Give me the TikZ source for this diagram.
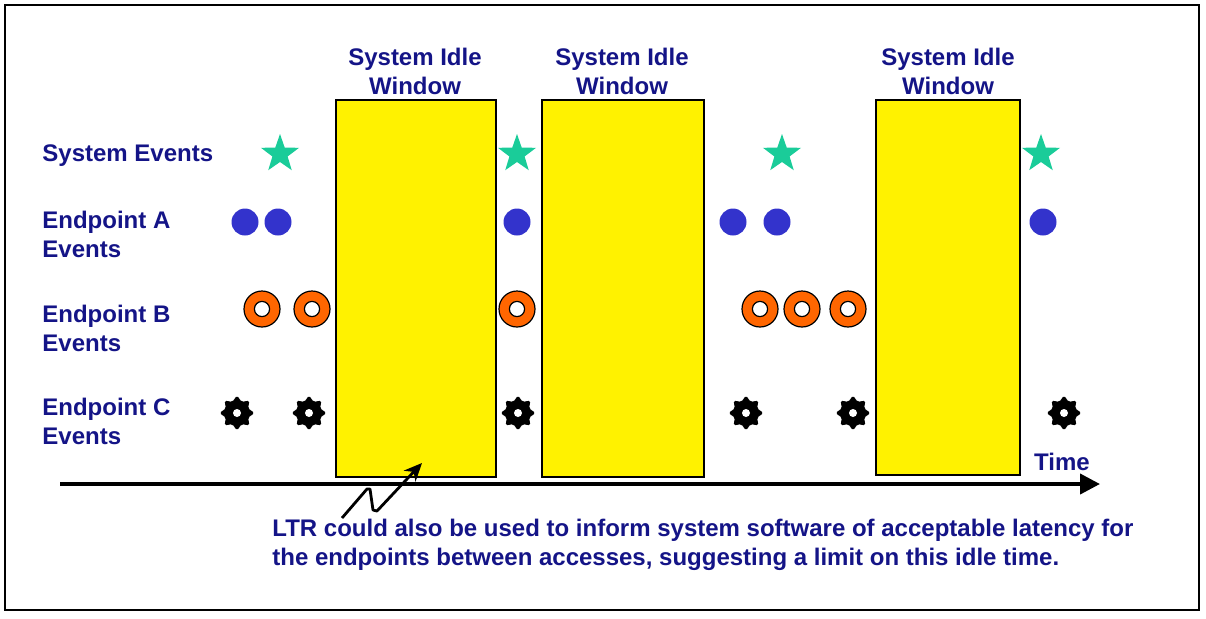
\documentclass[tikz,border=0pt]{standalone}
\usepackage{fontspec}
\setmainfont{Liberation Sans}
\usepackage{tikz}
\usepackage{xcolor}
\usetikzlibrary{shapes.geometric,arrows.meta}

\definecolor{labelblue}{RGB}{20,20,135}
\definecolor{dotblue}{RGB}{51,51,204}
\definecolor{stargreen}{RGB}{26,204,153}
\definecolor{ringorange}{RGB}{255,102,0}

\begin{document}
\begin{tikzpicture}[x=0.5pt, y=-0.5pt,
	txt/.style={text=labelblue, font=\fontsize{12}{14.5}\selectfont\bfseries, inner sep=0pt},
	rowlabel/.style={txt, anchor=west, align=left},
	idle/.style={draw, line width=0.7pt, fill=yellow, inner sep=0pt},
	sysev/.style={star, star points=5, star point ratio=2.5, fill=stargreen, minimum size=20pt, inner sep=0pt},
	epa/.style={circle, fill=dotblue, minimum size=13.5pt, inner sep=0pt},
	epb/.style={circle, draw, line width=0.6pt, fill=ringorange, minimum size=18pt, inner sep=0pt,
		path picture={\draw[line width=0.6pt, fill=white] (path picture bounding box.center) circle (3.8pt);}},
	epc/.style={star, star points=8, star point ratio=1.45, fill=black, minimum size=17.5pt, inner sep=0pt, rounded corners=0.8pt,
		path picture={\fill[white] (path picture bounding box.center) circle (2pt);}}]
	\useasboundingbox (0,0) rectangle (1206,618);
	\draw[line width=1pt] (5,5) rectangle (1199,610);
	
	% idle windows
	\node[idle, minimum width=80pt, minimum height=188.5pt] (w1) at (416,288.5) {};
	\node[idle, minimum width=81pt, minimum height=188.5pt] (w2) at (623,288.5) {};
	\node[idle, minimum width=72pt, minimum height=187.5pt] (w3) at (948,287.5) {};
	
	\node[txt, align=center] (h1) at (415,71) {System Idle\\Window};
	\node[txt, align=center] (h2) at (622,71) {System Idle\\Window};
	\node[txt, align=center] (h3) at (948,71) {System Idle\\Window};
	
	% rows
	\node[rowlabel] (ls) at (42,156) {System Events};
	\node[rowlabel] (la) at (42,234) {Endpoint A\\Events};
	\node[rowlabel] (lb) at (42,328) {Endpoint B\\Events};
	\node[rowlabel] (lc) at (42,421) {Endpoint C\\Events};
	
	\node[sysev] (s1) at (280,154) {};
	\node[sysev] (s2) at (517,154) {};
	\node[sysev] (s3) at (782,154) {};
	\node[sysev] (s4) at (1041,154) {};
	
	\node[epa] (a1) at (245,222) {};
	\node[epa] (a2) at (278,222) {};
	\node[epa] (a3) at (517,222) {};
	\node[epa] (a4) at (733,222) {};
	\node[epa] (a5) at (777,222) {};
	\node[epa] (a6) at (1043,222) {};
	
	\node[epb] (b1) at (262,309) {};
	\node[epb] (b2) at (312,309) {};
	\node[epb] (b3) at (517,309) {};
	\node[epb] (b4) at (760,309) {};
	\node[epb] (b5) at (802,309) {};
	\node[epb] (b6) at (848,309) {};
	
	\node[epc] (c1) at (237,413) {};
	\node[epc] (c2) at (309,413) {};
	\node[epc] (c3) at (518,413) {};
	\node[epc] (c4) at (746,413) {};
	\node[epc] (c5) at (853,413) {};
	\node[epc] (c6) at (1064,413) {};
	
	% time axis
	\coordinate (t0) at (60,484);
	\coordinate (t1) at (1100,484);
	\draw[line width=2pt, -{Triangle[length=10pt, width=10pt]}] (t0) -- (t1);
	\node[txt] (time) at (1062,462) {Time};
	
	% note
	\node[txt, anchor=north west, align=left] (note) at (272,519) {LTR could also be used to inform system software of acceptable latency for\\the endpoints between accesses, suggesting a limit on this idle time.};
	\coordinate (q0) at (342,518);
	\coordinate (q1) at (422,463);
	\draw[line width=1.4pt, line join=round, -{Stealth[length=9pt, width=8pt]}] (q0) -- (367,489) -- (370,489) -- (373,510) -- (377,511) -- (q1);
\end{tikzpicture}
\end{document}
